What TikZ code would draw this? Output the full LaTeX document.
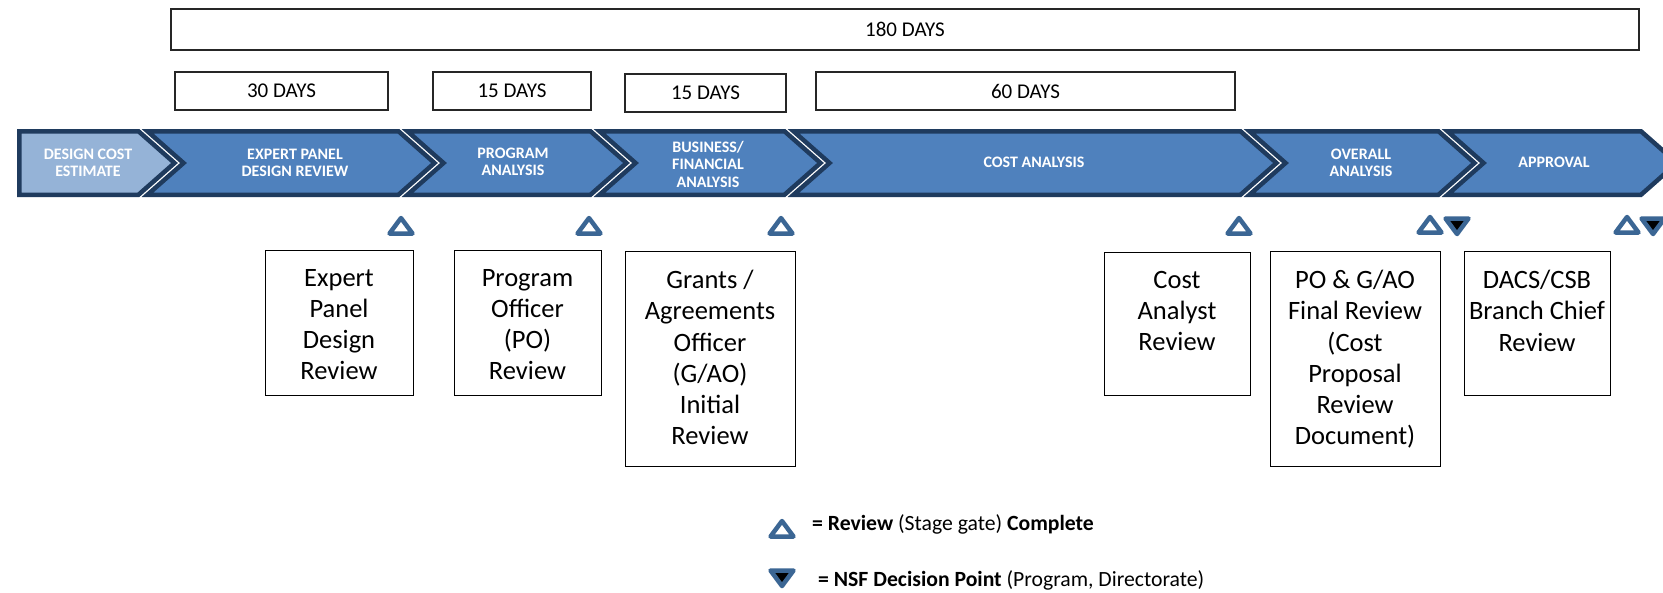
\documentclass[tikz,border=0pt]{standalone}
\usepackage{fontspec}
\setmainfont{Carlito}
\definecolor{navy}{HTML}{1F3B5E}
\definecolor{chevblue}{HTML}{4F81BD}
\definecolor{chevlight}{HTML}{95B3D7}
\definecolor{tri}{HTML}{3B6694}
\tikzset{
  chev/.style={draw=navy, line width=4.5, line join=miter},
  chevtext/.style={text=white, font=\fontsize{16}{17.5}\selectfont\bfseries, align=center, inner sep=0},
  daybox/.style={draw=black!85, line width=1.5, font=\fontsize{21}{25}\selectfont, inner sep=0},
  revbox/.style={draw=black, line width=1.3, inner sep=0, anchor=north west},
  revtext/.style={font=\fontsize{26.5}{31.2}\selectfont, align=center, inner sep=0, anchor=north},
  legtext/.style={font=\fontsize{21.7}{25}\selectfont, anchor=west, inner sep=0},
  tristyle/.style={draw=tri, line width=4.5, line join=round},
  uptri/.pic={\draw[tristyle, fill=white] (-11.5,7.5) -- (11.5,7.5) -- (0,-8) -- cycle;},
  dntri/.pic={\draw[tristyle, fill=black] (-11.5,-7.5) -- (11.5,-7.5) -- (0,8) -- cycle;},
}
\begin{document}
\begin{tikzpicture}[x=1pt,y=-1pt]
\useasboundingbox (0,0) rectangle (1663,592);
\clip (0,0) rectangle (1663,592);

% duration boxes
\node[daybox, minimum width=1468, minimum height=41] (d180) at (905,29.5) {180 DAYS};
\node[daybox, minimum width=213, minimum height=38] (d30) at (281.5,91) {30 DAYS};
\node[daybox, minimum width=158, minimum height=38] (d15a) at (512,91) {15 DAYS};
\node[daybox, minimum width=161, minimum height=38] (d15b) at (705.5,93) {15 DAYS};
\node[daybox, minimum width=419, minimum height=38] (d60) at (1025.5,91) {60 DAYS};

% chevron band
\draw[chev, fill=chevlight] (19.25,131.25) -- (138.5,131.25) -- (174.5,163) -- (138.5,194.75) -- (19.25,194.75) -- cycle;
\foreach \l/\r in {147.5/398.5, 407.5/590.5, 599.5/784.5, 793.5/1240.5, 1249.5/1438.5, 1447.5/1641}
  \draw[chev, fill=chevblue] (\l,131.25) -- (\r,131.25) -- ({\r+36},163) -- (\r,194.75) -- (\l,194.75) -- ({\l+36},163) -- cycle;

\node[chevtext] (c1) at (88,163) {DESIGN COST\\ESTIMATE};
\node[chevtext] (c2) at (295,163) {EXPERT PANEL\\DESIGN REVIEW};
\node[chevtext] (c3) at (513,162) {PROGRAM\\ANALYSIS};
\node[chevtext] (c4) at (708,164) {BUSINESS/\\FINANCIAL\\ANALYSIS};
\node[chevtext] (c5) at (1034,162) {COST ANALYSIS};
\node[chevtext] (c6) at (1361,163) {OVERALL\\ANALYSIS};
\node[chevtext] (c7) at (1554,162) {APPROVAL};

% gate markers
\pic at (401,226) {uptri};
\pic at (589,226) {uptri};
\pic at (781,226) {uptri};
\pic at (1239,226) {uptri};
\pic at (1430,225) {uptri};
\pic at (1457,226) {dntri};
\pic at (1627,225) {uptri};
\pic at (1653,226) {dntri};

% review boxes
\node[revbox, minimum width=148, minimum height=145] (b1) at (265,250) {};
\node[revbox, minimum width=147, minimum height=145] (b2) at (454,250) {};
\node[revbox, minimum width=170, minimum height=215] (b3) at (625,251) {};
\node[revbox, minimum width=146, minimum height=143] (b4) at (1104,252) {};
\node[revbox, minimum width=170, minimum height=215] (b5) at (1270,251) {};
\node[revbox, minimum width=146, minimum height=144] (b6) at (1464,251) {};

\node[revtext] (t1) at (339,269) {Expert\\Panel\\Design\\Review};
\node[revtext] (t2) at (527.5,269) {Program\\Officer\\(PO)\\Review};
\node[revtext] (t3) at (710,270) {Grants /\\Agreements\\Officer\\(G/AO)\\Initial\\Review};
\node[revtext] (t4) at (1177,271) {Cost\\Analyst\\Review};
\node[revtext] (t5) at (1355,270) {PO \& G/AO\\Final Review\\(Cost\\Proposal\\Review\\Document)};
\node[revtext] (t6) at (1537,270) {DACS/CSB\\Branch Chief\\Review};

% legend
\pic at (782,529) {uptri};
\pic at (782,578) {dntri};
\node[legtext] (l1) at (812,524) {\textbf{= Review} (Stage gate) \textbf{Complete}};
\node[legtext] (l2) at (818,580) {\textbf{= NSF Decision Point} (Program, Directorate)};
\end{tikzpicture}
\end{document}
